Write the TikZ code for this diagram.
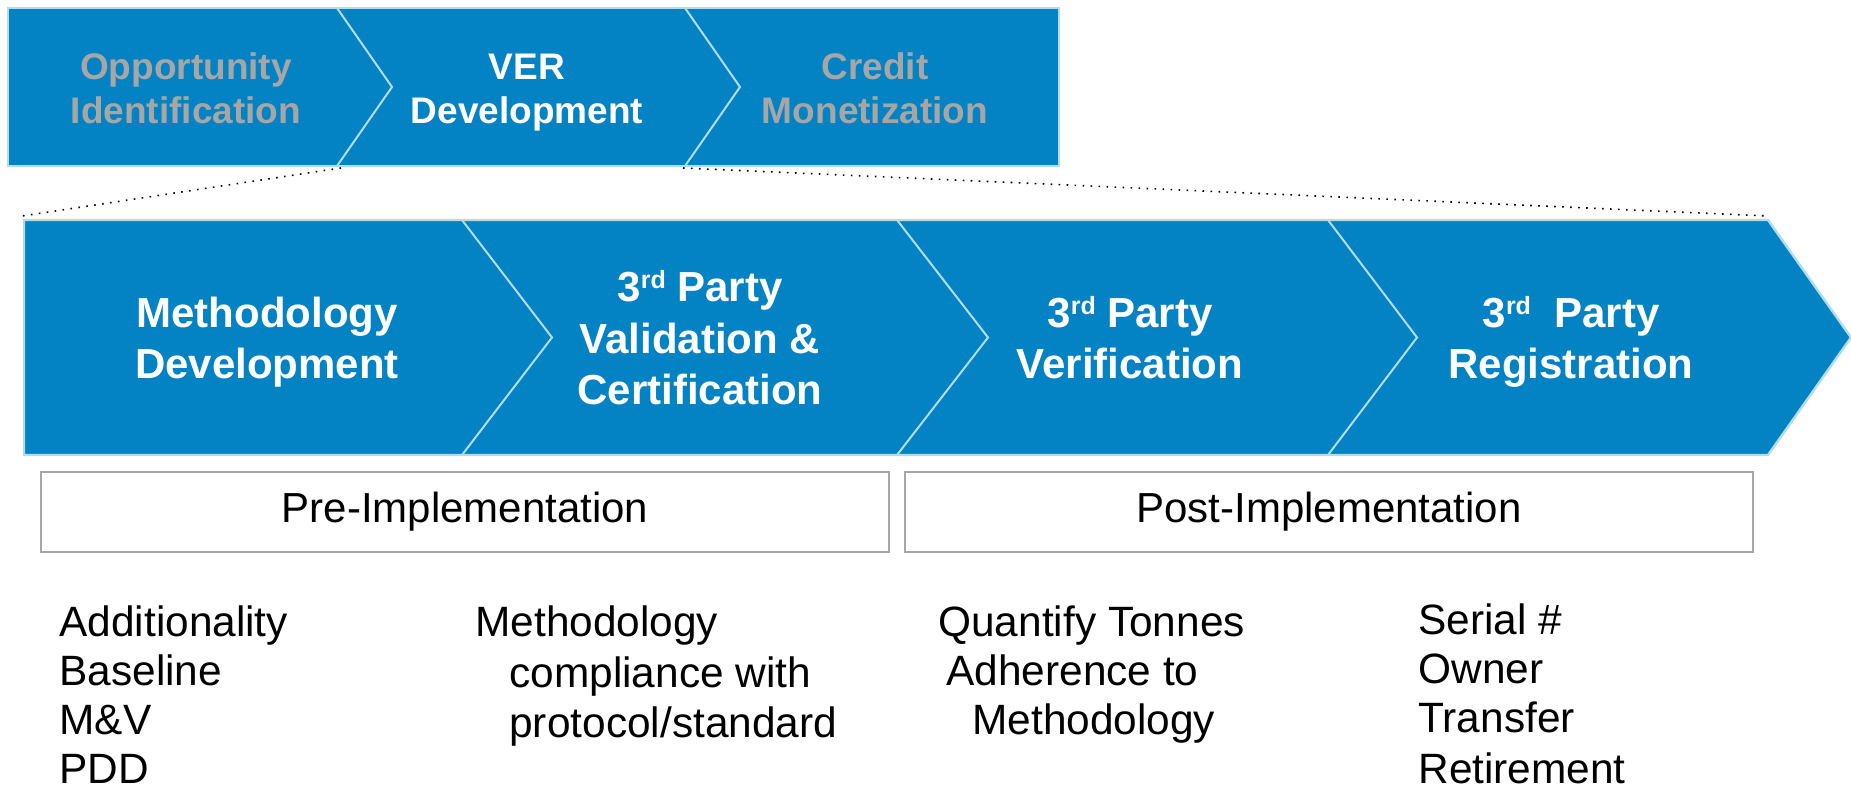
\documentclass[tikz,border=0pt]{standalone}
\usepackage{fontspec}
\setmainfont{Liberation Sans}
\definecolor{barblue}{RGB}{3,130,196}
\definecolor{barline}{RGB}{178,220,234}
\definecolor{dimtext}{RGB}{166,166,166}
\definecolor{boxgray}{RGB}{166,166,166}
\newcommand{\thrd}{3\raisebox{6.5pt}{\fontsize{12.5}{12.5}\selectfont rd}}
\begin{document}
\begin{tikzpicture}[x=0.5pt,y=-0.5pt,
  toplbl/.style={font=\fontsize{18.5}{22}\selectfont\bfseries, anchor=base, inner sep=0pt},
  chevlbl/.style={font=\fontsize{21}{25}\selectfont\bfseries, text=white, anchor=base, inner sep=0pt},
  bodytxt/.style={font=\fontsize{21.2}{25}\selectfont, anchor=base west, inner sep=0pt},
  phasebox/.style={draw=boxgray, line width=1pt, fill=white, minimum width=424pt, minimum height=40pt, inner sep=0pt, font=\fontsize{21}{25}\selectfont},
  sepline/.style={draw=barline, line width=1pt},
  zoomline/.style={draw=black, line width=0.8pt, dash pattern=on 0.8pt off 3.2pt}
]
\path[use as bounding box, fill=white] (0,0) rectangle (1851,790);

% ---- top bar ----
\path[fill=barblue, draw=barline, line width=1.2pt] (8,8) rectangle (1059,166);
\path[sepline] (337,8) -- (392,87) -- (337,166);
\path[sepline] (685,8) -- (740,87) -- (685,166);

\node[toplbl, text=dimtext] (opp1) at (186,80) {Opportunity};
\node[toplbl, text=dimtext] (opp2) at (186,124) {Identification};
\node[toplbl, text=white] (ver1) at (527,80) {VER};
\node[toplbl, text=white] (ver2) at (527,124) {Development};
\node[toplbl, text=dimtext] (cre1) at (875,80) {Credit};
\node[toplbl, text=dimtext] (cre2) at (875,124) {Monetization};

% ---- second bar ----
\path[fill=barblue, draw=barline, line width=1.2pt] (24,220) -- (1768,220) -- (1851,337.5) -- (1768,455) -- (24,455) -- cycle;
\path[sepline] (462,220) -- (552,337.5) -- (462,455);
\path[sepline] (897,220) -- (988,337.5) -- (897,455);
\path[sepline] (1328,220) -- (1417,337.5) -- (1328,455);

\node[chevlbl] (md1) at (267,328) {Methodology};
\node[chevlbl] (md2) at (267,379) {Development};
\node[chevlbl] (vc1) at (700,302) {\thrd{} Party};
\node[chevlbl] (vc2) at (700,354) {Validation \&};
\node[chevlbl] (vc3) at (700,405) {Certification};
\node[chevlbl] (vf1) at (1130,328) {\thrd{} Party};
\node[chevlbl] (vf2) at (1130,379) {Verification};
\node[chevlbl] (rg1) at (1571,328) {\thrd{}\ \ Party};
\node[chevlbl] (rg2) at (1571,379) {Registration};

% ---- zoom (dotted) lines ----
\coordinate (zl1) at (341,168);
\coordinate (zl2) at (22,216);
\coordinate (zr1) at (683,168);
\coordinate (zr2) at (1768,216);
\draw[zoomline] (zl1) -- (zl2);
\draw[zoomline] (zr1) -- (zr2);

% ---- phase boxes ----
\node[phasebox] (pre) at (465,512) {Pre-Implementation};
\node[phasebox] (post) at (1329,512) {Post-Implementation};

% ---- bottom lists ----
\node[bodytxt] (a1) at (59,636) {Additionality};
\node[bodytxt] (a2) at (59,685) {Baseline};
\node[bodytxt] (a3) at (59,734) {M\&V};
\node[bodytxt] (a4) at (59,783) {PDD};

\node[bodytxt] (b1) at (475,636) {Methodology};
\node[bodytxt] (b2) at (509,687) {compliance with};
\node[bodytxt] (b3) at (509,737) {protocol/standard};

\node[bodytxt] (c1) at (938,636) {Quantify Tonnes};
\node[bodytxt] (c2) at (946,685) {Adherence to};
\node[bodytxt] (c3) at (972,734) {Methodology};

\node[bodytxt] (d1) at (1418,634) {Serial \#};
\node[bodytxt] (d2) at (1418,683) {Owner};
\node[bodytxt] (d3) at (1418,732) {Transfer};
\node[bodytxt] (d4) at (1418,783) {Retirement};
\end{tikzpicture}
\end{document}
